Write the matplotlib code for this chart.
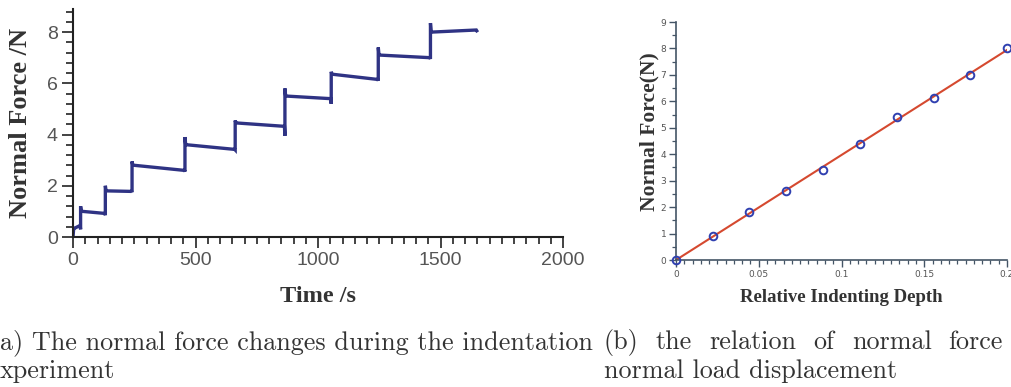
import numpy as np
import matplotlib
matplotlib.use("Agg")
import matplotlib.pyplot as plt
from matplotlib.ticker import MultipleLocator

# (a) stepwise normal force during indentation
step_time = [0, 31, 132, 241, 457, 662, 865, 1054, 1246, 1459]
step_peak = [0.0, 1.2, 2.0, 2.95, 3.9, 4.55, 5.8, 6.45, 7.4, 8.35]
step_start = [0.35, 1.0, 1.8, 2.8, 3.6, 4.45, 5.5, 6.35, 7.1, 8.0]
step_end = [0.45, 0.92, 1.78, 2.6, 3.42, 4.32, 5.4, 6.15, 7.0, 8.08]
step_dip = [0.3, 0.85, 1.75, 2.55, 3.4, 3.95, 5.2, 6.1, 6.95, 8.05]
end_time = 1648

# (b) normal force vs relative indenting depth
depth = [0, 0.0222, 0.0444, 0.0667, 0.0889, 0.1111, 0.1333, 0.1556, 0.1778, 0.2]
force = [0, 0.92, 1.82, 2.6, 3.42, 4.4, 5.42, 6.12, 6.98, 8.03]

caption_a = ["a) The normal force changes during the indentation", "xperiment"]
caption_b = ["(b) the relation of normal force", "normal load displacement"]

W, H = 1011, 387
fig = plt.figure(figsize=(W / 100, H / 100), dpi=100)

txt = "#333333"
serif_bold = dict(family="Liberation Serif", weight="bold", color=txt)

# ---------- left panel ----------
ax1 = fig.add_axes([73 / W, 1 - 237 / H, 490 / W, 228 / H])
t, f = [], []
for i in range(len(step_time)):
    t0 = step_time[i]
    t1 = step_time[i + 1] if i + 1 < len(step_time) else end_time
    t += [t0, t0 + 3, t0 + 8, t1 - 2, t1]
    f += [step_peak[i], step_start[i], step_start[i], step_end[i], step_dip[i]]
ax1.plot(t, f, color="#2f3384", lw=2.4, solid_joinstyle="miter")

ax1.set_xlim(0, 2000)
ax1.set_ylim(0, 8.9)
ax1.xaxis.set_major_locator(MultipleLocator(500))
ax1.xaxis.set_minor_locator(MultipleLocator(50))
ax1.yaxis.set_major_locator(MultipleLocator(2))
ax1.yaxis.set_minor_locator(MultipleLocator(0.4))
for s in ["top", "right"]:
    ax1.spines[s].set_visible(False)
for s in ["left", "bottom"]:
    ax1.spines[s].set_linewidth(1.5)
    ax1.spines[s].set_color("#222222")
ax1.tick_params(which="major", length=8, width=1.2, color="#222222",
                labelsize=14, labelcolor="#555555", pad=3)
ax1.tick_params(which="minor", length=5, width=1.2, color="#222222")
for lab in ax1.get_xticklabels() + ax1.get_yticklabels():
    lab.set_family("Liberation Sans")

fig.text(318 / W, 1 - 297 / H, "Time /s", ha="center", va="center", fontsize=17.5, **serif_bold)
fig.text(21 / W, 1 - 123 / H, "Normal Force /N", ha="center", va="center",
         rotation=90, fontsize=19, **serif_bold)

# ---------- right panel ----------
ax2 = fig.add_axes([676 / W, 1 - 260 / H, 331 / W, 238 / H])
k, b = np.polyfit(depth, force, 1)
xx = np.array([0, 0.2])
ax2.plot(xx, k * xx + b, color="#d5492f", lw=1.5, zorder=2)
ax2.plot(depth, force, "o", mfc="none", mec="#3040b0", ms=5.5, mew=1.4, zorder=3,
         clip_on=False)

ax2.set_xlim(0, 0.2)
ax2.set_ylim(0, 9)
ax2.xaxis.set_major_locator(MultipleLocator(0.05))
ax2.xaxis.set_minor_locator(MultipleLocator(0.005))
ax2.yaxis.set_major_locator(MultipleLocator(1))
ax2.yaxis.set_minor_locator(MultipleLocator(0.5))
ax2.set_xticks([0, 0.05, 0.1, 0.15, 0.2])
ax2.set_xticklabels(["0", "0.05", "0.1", "0.15", "0.2"])
for s in ["top", "right"]:
    ax2.spines[s].set_visible(False)
for s in ["left", "bottom"]:
    ax2.spines[s].set_linewidth(1.2)
    ax2.spines[s].set_color("#445566")
ax2.tick_params(which="major", length=5, width=1.0, color="#445566",
                labelsize=6.5, labelcolor="#555555", pad=2)
ax2.tick_params(which="minor", length=3, width=0.9, color="#445566")

fig.text(841 / W, 1 - 297 / H, "Relative Indenting Depth", ha="center", va="center",
         fontsize=13.5, **serif_bold)
fig.text(649 / W, 1 - 132 / H, "Normal Force(N)", ha="center", va="center",
         rotation=90, fontsize=15.5, **serif_bold)

# ---------- captions ----------
cap = dict(family="cmr10", fontsize=18.8, color="#333333", va="baseline", ha="left")
fig.text(0 / W, 1 - 349 / H, caption_a[0], **cap)
fig.text(0 / W, 1 - 378 / H, caption_a[1], **cap)
fig.text(604 / W, 1 - 378 / H, caption_b[1], **cap)

# first line of (b) is justified, stretched nearly to the right edge
renderer = fig.canvas.get_renderer()
words = caption_b[0].split()
arts = [fig.text(0, 1 - 349 / H, w, **cap) for w in words]
widths = [a.get_window_extent(renderer).width for a in arts]
x0, x1 = 604, 1003
gap = (x1 - x0 - sum(widths)) / (len(words) - 1)
x = x0
for a, w in zip(arts, widths):
    a.set_x(x / W)
    x += w + gap

fig.savefig("out.png", dpi=100, facecolor="white")
